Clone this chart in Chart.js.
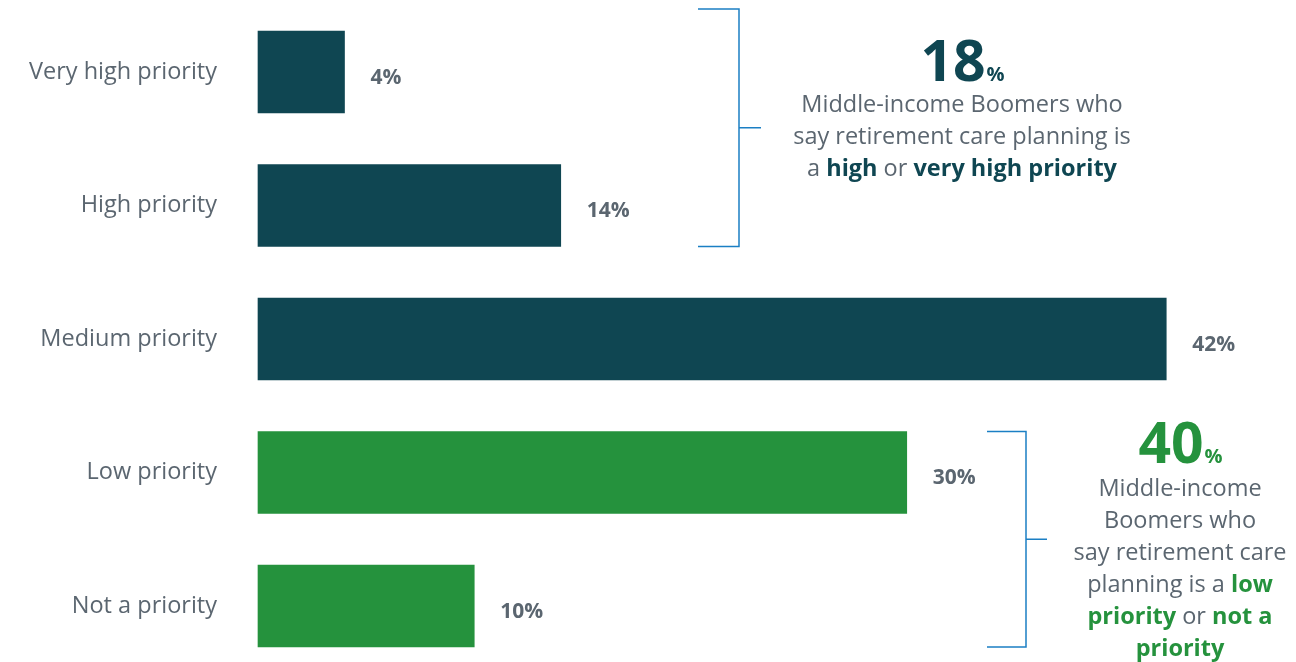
<!DOCTYPE html>
<html>
<head>
<meta charset="utf-8">
<script src="https://cdn.jsdelivr.net/npm/chart.js@4.4.1/dist/chart.umd.min.js"></script>
<style>
  html, body { margin: 0; padding: 0; background: #fff; }
  #wrap { width: 1296px; height: 662px; position: relative; }
</style>
</head>
<body>
<div id="wrap"><canvas id="priorityChart"></canvas></div>
<script>
const categories = ['Very high priority', 'High priority', 'Medium priority', 'Low priority', 'Not a priority'];
const shares = [4, 14, 42, 30, 10];
const barColors = ['#0f4652', '#0f4652', '#0f4652', '#25923d', '#25923d'];

// which bars each bracket groups together
const highGroup = [0, 1];
const lowGroup = [3, 4];

const TEAL = '#0f4652';
const GREEN = '#25923d';
const GREY = '#5b6670';
const BLUE = '#1b7fc4';
const FONT = '"Open Sans", "Noto Sans", sans-serif';
const BODY = 23.5;

function sumOf(idx) {
    return idx.reduce((s, i) => s + shares[i], 0);
}

// draws one centred line made of plain and bold pieces
function richLine(ctx, parts, cx, y, accent) {
    let total = 0;
    parts.forEach(p => {
        ctx.font = (p.b ? 'bold ' : '') + BODY + 'px ' + FONT;
        p.w = ctx.measureText(p.t).width;
        total += p.w;
    });
    let x = cx - total / 2;
    parts.forEach(p => {
        ctx.font = (p.b ? 'bold ' : '') + BODY + 'px ' + FONT;
        ctx.fillStyle = p.b ? accent : GREY;
        ctx.fillText(p.t, x, y);
        x += p.w;
    });
}

function bigNumber(ctx, value, cx, y, color) {
    ctx.font = 'bold 57px ' + FONT;
    const numW = ctx.measureText(String(value)).width;
    ctx.font = 'bold 20px ' + FONT;
    const pctW = ctx.measureText('%').width;
    let x = cx - (numW + pctW) / 2;
    ctx.fillStyle = color;
    ctx.font = 'bold 57px ' + FONT;
    ctx.fillText(String(value), x, y);
    ctx.font = 'bold 20px ' + FONT;
    ctx.fillText('%', x + numW + 1, y);
}

function bracket(ctx, xLine, top, bottom, left, tick) {
    const mid = (top + bottom) / 2;
    ctx.strokeStyle = BLUE;
    ctx.lineWidth = 1.5;
    ctx.beginPath();
    ctx.moveTo(left, top);
    ctx.lineTo(xLine, top);
    ctx.lineTo(xLine, bottom);
    ctx.lineTo(left, bottom);
    ctx.moveTo(xLine, mid);
    ctx.lineTo(xLine + tick, mid);
    ctx.stroke();
}

const valueLabels = {
    id: 'valueLabels',
    afterDatasetsDraw(chart) {
        const ctx = chart.ctx;
        const bars = chart.getDatasetMeta(0).data;
        ctx.save();
        ctx.font = 'bold 21px ' + FONT;
        ctx.fillStyle = GREY;
        ctx.textAlign = 'left';
        ctx.textBaseline = 'middle';
        bars.forEach((bar, i) => {
            ctx.fillText(shares[i] + '%', bar.x + 26, bar.y + 6);
        });
        ctx.restore();
    }
};

const callouts = {
    id: 'callouts',
    afterDraw(chart) {
        const ctx = chart.ctx;
        const bars = chart.getDatasetMeta(0).data;
        const half = b => b.height / 2;
        ctx.save();
        ctx.textAlign = 'left';
        ctx.textBaseline = 'alphabetic';

        // upper bracket: very high + high
        const a = bars[highGroup[0]], b = bars[highGroup[1]];
        bracket(ctx, 739, a.y - half(a) - 22, b.y + half(b), 698, 22);
        bigNumber(ctx, sumOf(highGroup), 962, 81, TEAL);
        richLine(ctx, [{ t: 'Middle-income Boomers who' }], 962, 112, TEAL);
        richLine(ctx, [{ t: 'say retirement care planning is' }], 962, 144, TEAL);
        richLine(ctx, [{ t: 'a ' }, { t: 'high', b: true }, { t: ' or ' }, { t: 'very high priority', b: true }], 962, 176, TEAL);

        // lower bracket: low + not a priority
        const c = bars[lowGroup[0]], d = bars[lowGroup[1]];
        bracket(ctx, 1026, c.y - half(c), d.y + half(d), 987, 21);
        bigNumber(ctx, sumOf(lowGroup), 1180, 463, GREEN);
        richLine(ctx, [{ t: 'Middle-income' }], 1180, 496, GREEN);
        richLine(ctx, [{ t: 'Boomers who' }], 1180, 528, GREEN);
        richLine(ctx, [{ t: 'say retirement care' }], 1180, 560, GREEN);
        richLine(ctx, [{ t: 'planning is a ' }, { t: 'low', b: true }], 1180, 592, GREEN);
        richLine(ctx, [{ t: 'priority', b: true }, { t: ' or ' }, { t: 'not a', b: true }], 1180, 624, GREEN);
        richLine(ctx, [{ t: 'priority', b: true }], 1180, 656, GREEN);
        ctx.restore();
    }
};

new Chart('priorityChart', {
    type: 'bar',
    data: {
        labels: categories,
        datasets: [{
            data: shares,
            backgroundColor: barColors,
            borderWidth: 0,
            barThickness: 82,
            clip: false
        }]
    },
    options: {
        indexAxis: 'y',
        responsive: true,
        maintainAspectRatio: false,
        animation: false,
        layout: { padding: { top: 72, bottom: 56, left: 0, right: 0 } },
        plugins: {
            legend: { display: false },
            tooltip: { enabled: false }
        },
        scales: {
            x: {
                display: false,
                min: 0,
                max: 48
            },
            y: {
                offset: false,
                border: { display: false },
                grid: { display: false, offset: false },
                ticks: {
                    color: GREY,
                    font: { family: FONT, size: 23.5 },
                    padding: 33
                },
                afterFit(scale) { scale.width = 258; }
            }
        }
    },
    plugins: [valueLabels, callouts]
});
</script>
</body>
</html>
